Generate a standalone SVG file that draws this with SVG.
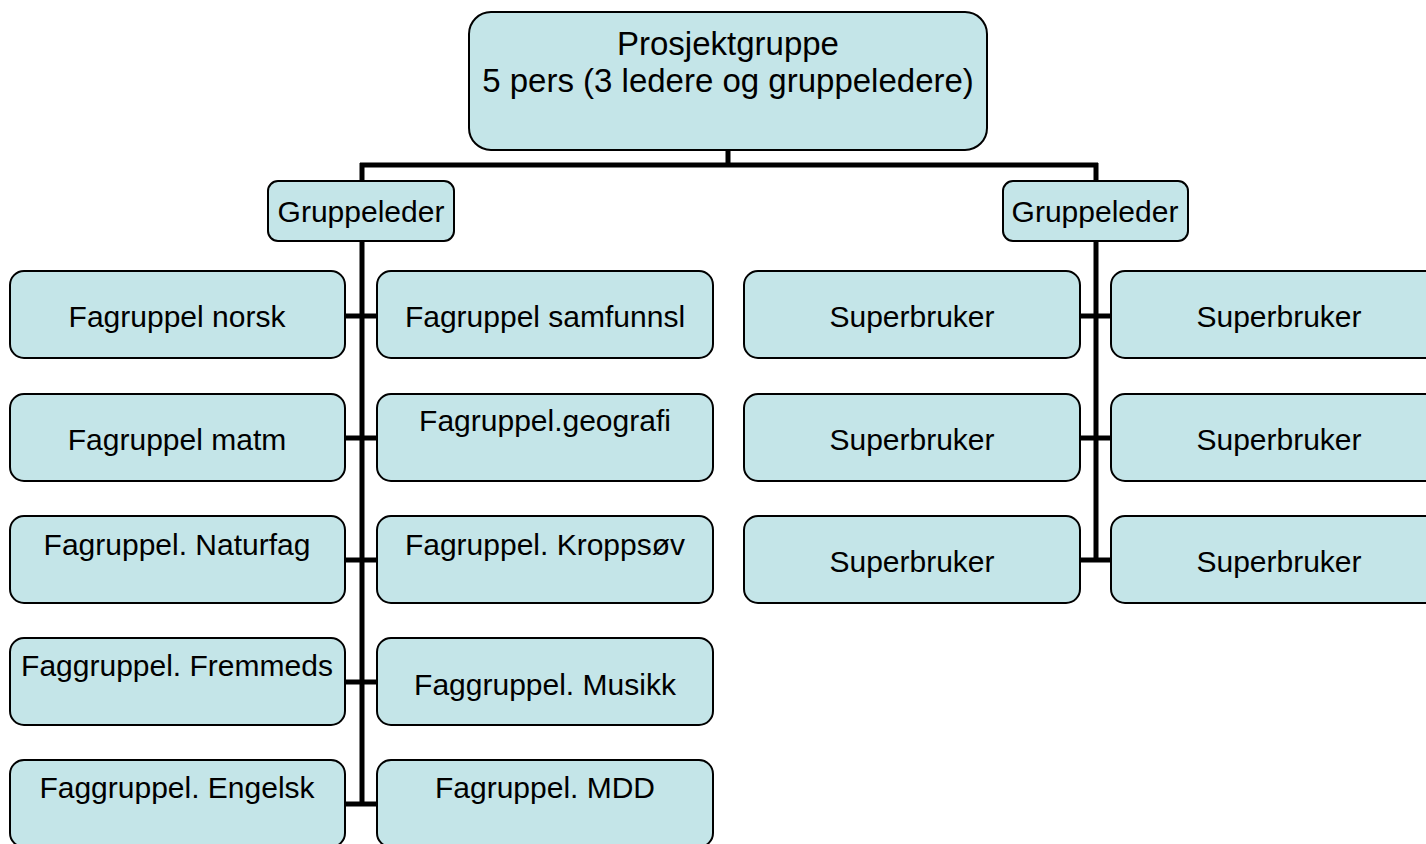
<svg xmlns="http://www.w3.org/2000/svg" width="1426" height="844" viewBox="0 0 1426 844">
<style>
.box{fill:#c4e5e8;stroke:#000;stroke-width:2}
.t{font-family:"Liberation Sans",Arial,sans-serif;font-size:30px;fill:#000;text-anchor:middle}
.tt{font-family:"Liberation Sans",Arial,sans-serif;font-size:33px;fill:#000;text-anchor:middle}
.c{stroke:#000;stroke-width:5;fill:none}
</style>
<rect width="1426" height="844" fill="#fff"/>
<g id="connectors">
<path class="c" d="M728 150V165M360 165H1098M362 163V181M1096 163V181"/>
<path class="c" d="M362 241V806M345 316H377M345 438H377M345 560H377M345 682H377M345 804H377"/>
<path class="c" d="M1096 241V560M1080 316H1111M1080 438H1111M1080 560H1111"/>
</g>
<g id="top"><rect class="box" x="469" y="12" width="518" height="138" rx="22"/>
<text class="tt" x="728" y="55">Prosjektgruppe</text><text class="tt" x="728" y="92">5 pers (3 ledere og gruppeledere)</text></g>
<g id="gl1"><rect class="box" x="268" y="181" width="186" height="60" rx="10"/><text class="t" x="361" y="222">Gruppeleder</text></g>
<g id="gl2"><rect class="box" x="1003" y="181" width="185" height="60" rx="10"/><text class="t" x="1095" y="222">Gruppeleder</text></g>
<g id="l1"><rect class="box" x="10" y="271" width="335" height="87" rx="14"/><text class="t" x="177" y="327">Fagruppel norsk</text></g>
<g id="l2"><rect class="box" x="10" y="394" width="335" height="87" rx="14"/><text class="t" x="177" y="450">Fagruppel matm</text></g>
<g id="l3"><rect class="box" x="10" y="516" width="335" height="87" rx="14"/><text class="t" x="177" y="555">Fagruppel. Naturfag</text></g>
<g id="l4"><rect class="box" x="10" y="638" width="335" height="87" rx="14"/><text class="t" x="177" y="676">Faggruppel. Fremmeds</text></g>
<g id="l5"><rect class="box" x="10" y="760" width="335" height="87" rx="14"/><text class="t" x="177" y="798">Faggruppel. Engelsk</text></g>
<g id="r1"><rect class="box" x="377" y="271" width="336" height="87" rx="14"/><text class="t" x="545" y="327">Fagruppel samfunnsl</text></g>
<g id="r2"><rect class="box" x="377" y="394" width="336" height="87" rx="14"/><text class="t" x="545" y="431">Fagruppel.geografi</text></g>
<g id="r3"><rect class="box" x="377" y="516" width="336" height="87" rx="14"/><text class="t" x="545" y="555">Fagruppel. Kroppsøv</text></g>
<g id="r4"><rect class="box" x="377" y="638" width="336" height="87" rx="14"/><text class="t" x="545" y="695">Faggruppel. Musikk</text></g>
<g id="r5"><rect class="box" x="377" y="760" width="336" height="87" rx="14"/><text class="t" x="545" y="798">Fagruppel. MDD</text></g>
<g id="s1"><rect class="box" x="744" y="271" width="336" height="87" rx="14"/><text class="t" x="912" y="327">Superbruker</text></g>
<g id="s2"><rect class="box" x="744" y="394" width="336" height="87" rx="14"/><text class="t" x="912" y="450">Superbruker</text></g>
<g id="s3"><rect class="box" x="744" y="516" width="336" height="87" rx="14"/><text class="t" x="912" y="572">Superbruker</text></g>
<g id="s4"><rect class="box" x="1111" y="271" width="336" height="87" rx="14"/><text class="t" x="1279" y="327">Superbruker</text></g>
<g id="s5"><rect class="box" x="1111" y="394" width="336" height="87" rx="14"/><text class="t" x="1279" y="450">Superbruker</text></g>
<g id="s6"><rect class="box" x="1111" y="516" width="336" height="87" rx="14"/><text class="t" x="1279" y="572">Superbruker</text></g>
</svg>
